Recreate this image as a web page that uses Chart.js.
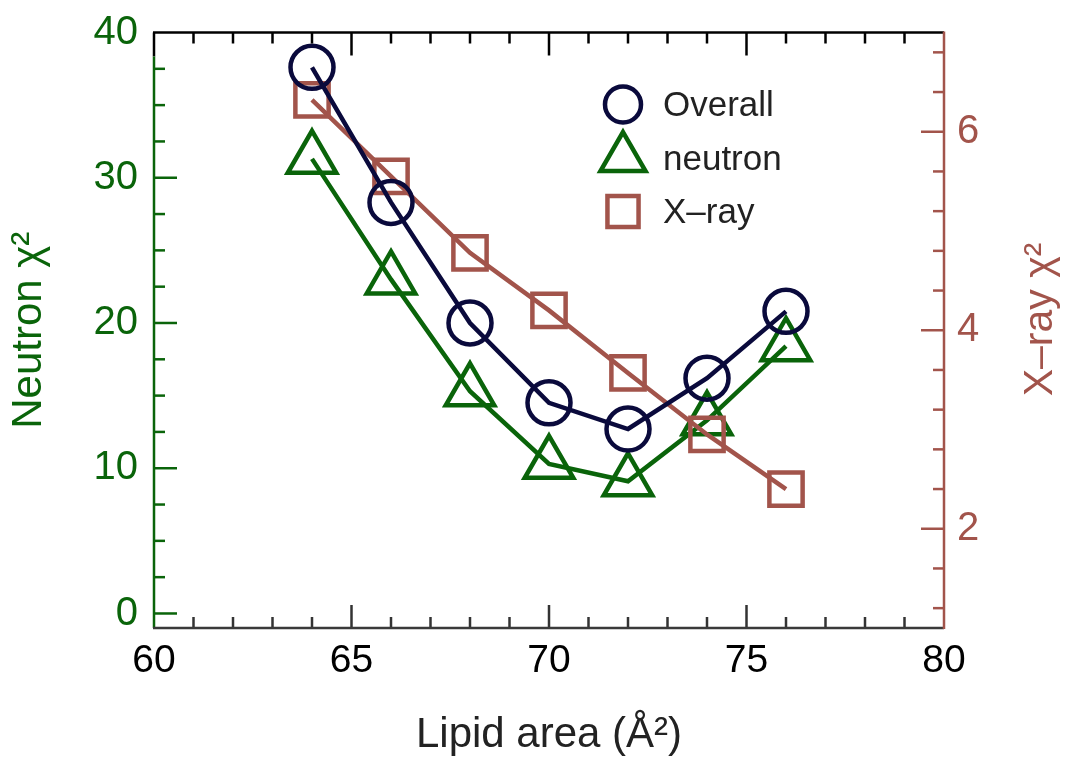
<!DOCTYPE html>
<html>
<head>
<meta charset="utf-8">
<script src="https://cdn.jsdelivr.net/npm/chart.js@4.4.1/dist/chart.umd.min.js"></script>
<style>
  body { margin: 0; background: #fff; }
  #wrap { width: 1065px; height: 757px; }
</style>
</head>
<body>
<div id="wrap"><canvas id="chart" width="1065" height="757"></canvas></div>
<script>
// chi-square vs lipid area
const area = [64, 66, 68, 70, 72, 74, 76];
const overall = [37.6, 28.3, 20.0, 14.5, 12.7, 16.2, 20.8];
const neutron = [31.3, 23.0, 15.3, 10.3, 9.1, 13.3, 18.4];
const xray = [6.32, 5.55, 4.78, 4.20, 3.57, 2.95, 2.40];

const xTicks = [60, 65, 70, 75, 80];
const leftTicks = [0, 10, 20, 30, 40];
const rightTicks = [2, 4, 6];

const NAVY = '#0a0a3c';
const GREEN = '#0a640a';
const BROWN = '#a2544b';
const FONT = '"Liberation Sans", Arial, Helvetica, sans-serif';

function pts(ys) {
    return area.map((a, i) => ({ x: a, y: ys[i] }));
}

function steps(from, to, step) {
    const out = [];
    for (let v = from; v <= to + 1e-9; v += step) out.push(+v.toFixed(4));
    return out;
}

// inward ticks, axis lines, right title, legend
const framePlugin = {
    id: 'frame',
    afterDraw(chart) {
        const ctx = chart.ctx;
        const a = chart.chartArea;
        const sx = chart.scales.x, sy = chart.scales.y, sr = chart.scales.y2;
        const MAJ = 23, MIN = 11;
        ctx.save();
        ctx.lineWidth = 2.5;
        ctx.lineCap = 'butt';

        // x ticks bottom + top
        steps(61, 79, 1).forEach(v => {
            const px = sx.getPixelForValue(v);
            const len = v % 5 === 0 ? MAJ : MIN;
            ctx.strokeStyle = '#333';
            ctx.beginPath(); ctx.moveTo(px, a.bottom); ctx.lineTo(px, a.bottom - len); ctx.stroke();
            ctx.strokeStyle = '#000';
            ctx.beginPath(); ctx.moveTo(px, a.top); ctx.lineTo(px, a.top + len); ctx.stroke();
        });
        // left ticks
        ctx.strokeStyle = GREEN;
        steps(0, 37.5, 2.5).forEach(v => {
            const py = sy.getPixelForValue(v);
            const len = v % 10 === 0 ? MAJ : MIN;
            ctx.beginPath(); ctx.moveTo(a.left, py); ctx.lineTo(a.left + len, py); ctx.stroke();
        });
        // right ticks
        ctx.strokeStyle = BROWN;
        steps(1.2, 6.8, 0.4).forEach(v => {
            const py = sr.getPixelForValue(v);
            const len = Math.abs(v % 2) < 1e-6 ? MAJ : MIN;
            ctx.beginPath(); ctx.moveTo(a.right, py); ctx.lineTo(a.right - len, py); ctx.stroke();
        });

        // axis lines
        ctx.strokeStyle = '#000';
        ctx.beginPath(); ctx.moveTo(a.left - 1, a.top); ctx.lineTo(a.right, a.top); ctx.stroke();
        ctx.beginPath(); ctx.moveTo(a.left, a.top); ctx.lineTo(a.left, a.top + 24); ctx.stroke();
        ctx.strokeStyle = GREEN;
        ctx.beginPath(); ctx.moveTo(a.left, a.top + 24); ctx.lineTo(a.left, a.bottom); ctx.stroke();
        ctx.strokeStyle = '#3a3a3a';
        ctx.beginPath(); ctx.moveTo(a.left - 1, a.bottom); ctx.lineTo(a.right, a.bottom); ctx.stroke();
        ctx.strokeStyle = BROWN;
        ctx.beginPath(); ctx.moveTo(a.right, a.top - 1); ctx.lineTo(a.right, a.bottom + 1); ctx.stroke();

        // right axis title, reads bottom to top
        ctx.fillStyle = BROWN;
        ctx.font = '41px ' + FONT;
        ctx.textAlign = 'center';
        ctx.textBaseline = 'middle';
        ctx.translate(a.right + 97, a.top + 287);
        ctx.rotate(-Math.PI / 2);
        ctx.fillText('X\u2013ray \u03c7\u00b2', 0, 0);
        ctx.restore();

        // legend
        const items = [
            { label: 'Overall', color: NAVY, style: 'circle', r: 18 },
            { label: 'neutron', color: GREEN, style: 'triangle', r: 26 },
            { label: 'X\u2013ray', color: BROWN, style: 'rect', r: 22 }
        ];
        const lx = a.left + 469, ly = a.top + 72, gap = 53.5;
        ctx.save();
        ctx.font = '35px ' + FONT;
        ctx.textAlign = 'left';
        ctx.textBaseline = 'middle';
        items.forEach((it, i) => {
            const y = ly + i * gap;
            ctx.strokeStyle = it.color;
            ctx.fillStyle = 'rgba(0,0,0,0)';
            ctx.lineWidth = 4.5;
            Chart.helpers.drawPoint(ctx, { pointStyle: it.style, rotation: 0, radius: it.r, borderWidth: 4.5 }, lx, y);
            ctx.fillStyle = '#222';
            ctx.fillText(it.label, lx + 40, y + 2);
        });
        ctx.restore();
    }
};

function series(label, ys, color, style, r, axis) {
    return {
        label: label,
        data: pts(ys),
        yAxisID: axis,
        borderColor: color,
        borderWidth: 4.5,
        pointStyle: style,
        pointRadius: r,
        pointHoverRadius: r,
        pointBorderWidth: 4.5,
        pointBorderColor: color,
        pointBackgroundColor: 'rgba(0,0,0,0)',
        showLine: true,
        tension: 0,
        clip: false
    };
}

function noPad(s) {
    s.paddingTop = 0;
    s.paddingBottom = 0;
    s.paddingLeft = 0;
    s.paddingRight = 0;
}

new Chart(document.getElementById('chart'), {
    type: 'line',
    data: {
        datasets: [
            series('Overall', overall, NAVY, 'circle', 21.5, 'y'),
            series('X\u2013ray', xray, BROWN, 'rect', 23.5, 'y2'),
            series('neutron', neutron, GREEN, 'triangle', 28, 'y')
        ]
    },
    options: {
        responsive: false,
        animation: false,
        layout: { padding: { top: 31, left: 0, right: 0, bottom: 0 } },
        plugins: { legend: { display: false }, tooltip: { enabled: false } },
        scales: {
            x: {
                type: 'linear',
                min: 60, max: 80,
                afterBuildTicks: s => { s.ticks = xTicks.map(v => ({ value: v })); },
                afterFit: s => { s.height = 129; noPad(s); },
                grid: { display: false, drawTicks: false },
                border: { display: false },
                ticks: { color: '#000', padding: 10, font: { family: FONT, size: 39 } },
                title: {
                    display: true, text: 'Lipid area (\u00c5\u00b2)', color: '#222',
                    font: { family: FONT, size: 42, lineHeight: 1 }, padding: { bottom: 1 }
                }
            },
            y: {
                position: 'left',
                min: -1, max: 40,
                afterBuildTicks: s => { s.ticks = leftTicks.map(v => ({ value: v })); },
                afterFit: s => { s.width = 154; noPad(s); },
                grid: { display: false, drawTicks: false },
                border: { display: false },
                ticks: { color: GREEN, padding: 16, font: { family: FONT, size: 40 } },
                title: {
                    display: true, text: 'Neutron \u03c7\u00b2', color: GREEN,
                    font: { family: FONT, size: 42, lineHeight: 1 }, padding: { top: 8 }
                }
            },
            y2: {
                position: 'right',
                min: 1, max: 7,
                afterBuildTicks: s => { s.ticks = rightTicks.map(v => ({ value: v })); },
                afterFit: s => { s.width = 121; noPad(s); },
                grid: { display: false, drawTicks: false },
                border: { display: false },
                ticks: { color: BROWN, padding: 13, font: { family: FONT, size: 40 } }
            }
        }
    },
    plugins: [framePlugin]
});
</script>
</body>
</html>
